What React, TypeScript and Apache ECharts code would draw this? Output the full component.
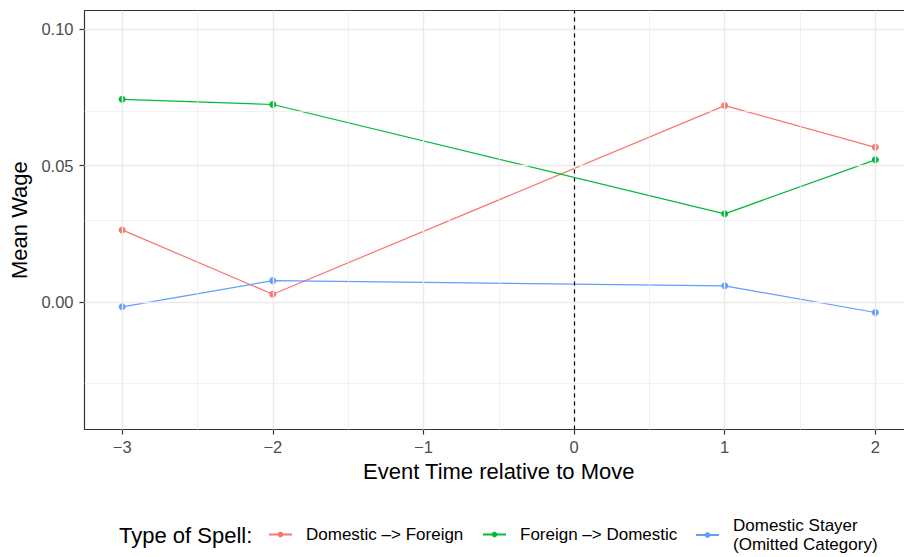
import React, { useEffect, useRef } from 'react';
import * as echarts from 'echarts';

const eventTimes = [-3, -2, 1, 2];
const domesticToForeign = [0.0264, 0.0028, 0.072, 0.0567];
const foreignToDomestic = [0.0743, 0.0724, 0.0323, 0.0521];
const domesticStayer = [-0.0018, 0.0078, 0.0059, -0.0039];
const seriesNames = ['Domestic –> Foreign', 'Foreign –> Domestic', 'Domestic Stayer\n(Omitted Category)'];
const seriesValues = [domesticToForeign, foreignToDomestic, domesticStayer];
const colors = ['#F8766D', '#00BA38', '#619CFF'];
const xTicks = [-3, -2, -1, 0, 1, 2];
const xMinorGrid = [-2.5, -1.5, -0.5, 0.5, 1.5];
const yTicks = [0, 0.05, 0.1];
const yMinorGrid = [-0.025, 0.025, 0.075];
const moveTime = 0;
const xRange = [-3.25, 2.25];
const yRange = [-0.0468, 0.1068];

const FONT = 'Liberation Sans, Arial, Helvetica, sans-serif';
const BORDER = { show: true, onZero: false, lineStyle: { color: '#333333', width: 1.2 } };

export default function App() {
  const ref = useRef<HTMLDivElement>(null);
  useEffect(() => {
    if (!ref.current) return;
    const chart = echarts.init(ref.current, null, { renderer: 'svg' });
    const gridLines: any[] = [];
    xTicks.forEach((v) => gridLines.push({ xAxis: v, lineStyle: { color: '#EBEBEB', width: 1.4, type: 'solid' } }));
    xMinorGrid.forEach((v) => gridLines.push({ xAxis: v, lineStyle: { color: '#EBEBEB', width: 0.7, type: 'solid' } }));
    yTicks.forEach((v) => gridLines.push({ yAxis: v, lineStyle: { color: '#EBEBEB', width: 1.4, type: 'solid' } }));
    yMinorGrid.forEach((v) => gridLines.push({ yAxis: v, lineStyle: { color: '#EBEBEB', width: 0.7, type: 'solid' } }));

    const legendLefts = [268, 482, 695];
    const legendTops = [525, 525, 516];

    const option: any = {
      animation: false,
      textStyle: { fontFamily: FONT },
      grid: {
        left: 84.5,
        top: 10.7,
        right: 1,
        bottom: 127.5,
        show: false,
        containLabel: false,
      },
      xAxis: [
        {
          type: 'value',
          min: xRange[0],
          max: xRange[1],
          name: 'Event Time relative to Move',
          nameLocation: 'middle',
          nameGap: 28,
          nameTextStyle: { fontSize: 22, color: '#000', fontFamily: FONT },
          axisLine: BORDER,
          splitLine: { show: false },
          axisTick: { show: true, length: 5, customValues: xTicks, lineStyle: { color: '#333333', width: 1.2 } },
          axisLabel: {
            customValues: xTicks,
            fontSize: 16.5,
            color: '#4D4D4D',
            margin: 9,
            fontFamily: FONT,
            formatter: (v: number) => (v < 0 ? '\u2212' + Math.abs(v) : String(v)),
          },
        },
        {
          type: 'value',
          position: 'top',
          min: xRange[0],
          max: xRange[1],
          axisLine: BORDER,
          axisTick: { show: false },
          axisLabel: { show: false },
          splitLine: { show: false },
        },
      ],
      yAxis: {
        type: 'value',
        min: yRange[0],
        max: yRange[1],
        name: 'Mean Wage',
        nameLocation: 'middle',
        nameGap: 51,
        nameTextStyle: { fontSize: 22, color: '#000', fontFamily: FONT },
        axisLine: BORDER,
        splitLine: { show: false },
        axisTick: { show: true, length: 5, customValues: yTicks, lineStyle: { color: '#333333', width: 1.2 } },
        axisLabel: {
          customValues: yTicks,
          fontSize: 16.5,
          color: '#4D4D4D',
          margin: 11,
          fontFamily: FONT,
          formatter: (v: number) => v.toFixed(2),
        },
      },
      legend: seriesNames.map((name, i) => ({
        data: [name],
        left: legendLefts[i],
        top: legendTops[i],
        orient: 'horizontal',
        itemWidth: 23,
        itemHeight: 7,
        itemGap: 0,
        padding: 0,
        selectedMode: false,
        textStyle: { fontSize: 17, color: '#000', fontFamily: FONT, lineHeight: 19, padding: [0, 0, 0, 9] },
      })),
      graphic: [
        {
          type: 'text',
          left: 119,
          top: 524,
          style: { text: 'Type of Spell:', fontSize: 22, fill: '#000', fontFamily: FONT },
        },
      ],
      series: [
        {
          type: 'line',
          data: [],
          silent: true,
          z: 0,
          markLine: {
            silent: true,
            symbol: ['none', 'none'],
            label: { show: false },
            animation: false,
            data: gridLines,
          },
        },
        ...seriesNames.map((name, i) => ({
          name,
          type: 'line',
          data: eventTimes.map((t, j) => [t, seriesValues[i][j]]),
          color: colors[i],
          symbol: 'circle',
          symbolSize: 7,
          showSymbol: true,
          lineStyle: { width: 1.2, color: colors[i] },
          itemStyle: { color: colors[i] },
          z: 3,
        })),
        {
          type: 'line',
          data: [],
          silent: true,
          z: 4,
          markLine: {
            silent: true,
            symbol: ['none', 'none'],
            label: { show: false },
            animation: false,
            data: [{ xAxis: moveTime, lineStyle: { color: '#000', width: 1.2, type: [4, 4] } }],
          },
        },
      ],
    };
    chart.setOption(option);
    return () => chart.dispose();
  }, []);
  return (
    <div style={{ position: 'absolute', left: 0, top: 0, width: 904, height: 557, overflow: 'hidden' }}>
      <div ref={ref} style={{ width: 914, height: 557 }} />
    </div>
  );
}
